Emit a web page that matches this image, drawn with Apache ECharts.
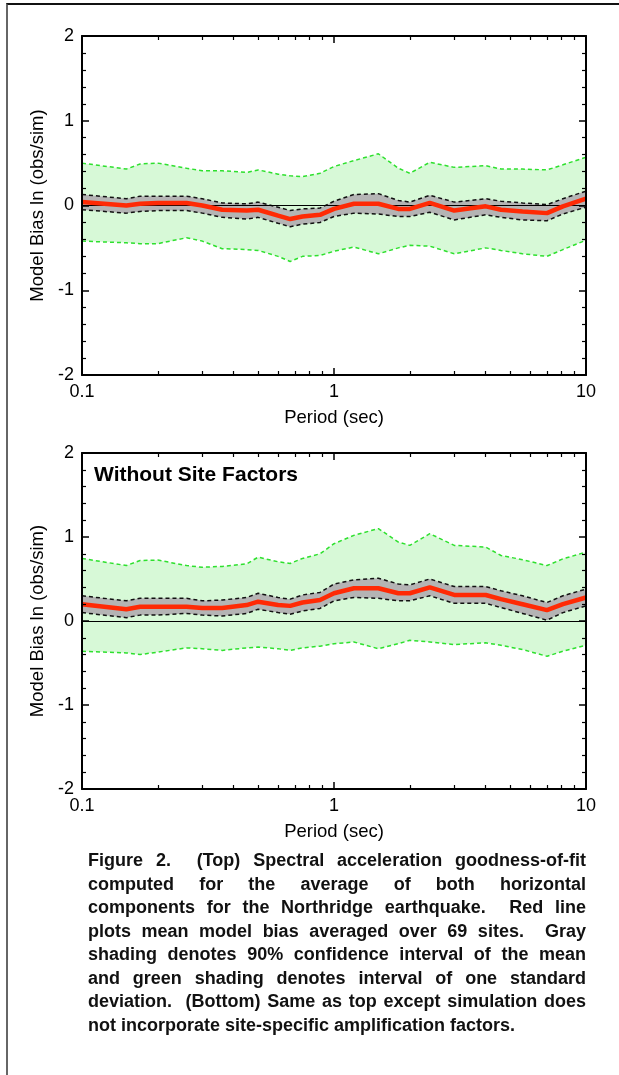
<!DOCTYPE html>
<html>
<head>
<meta charset="utf-8">
<script src="https://cdn.jsdelivr.net/npm/echarts@6/dist/echarts.min.js"></script>
<style>
  body { margin: 0; background: #fff; }
  #wrap { position: relative; width: 619px; height: 1075px; overflow: hidden; }
  #main { position: absolute; left: 0; top: 0; width: 619px; height: 1075px; }
  #frame { position: absolute; left: 6px; top: 3px; width: 640px; height: 1100px;
           border-top: 2px solid #111; border-left: 2px solid #666; }
  #caption { position: absolute; left: 88px; top: 849px; width: 498px;
             font: bold 18px "Liberation Sans", Arial, sans-serif; color: #111; line-height: 23.5px; }
  #caption div { text-align: justify; text-align-last: justify; white-space: nowrap; }
  #caption div.last { text-align: left; text-align-last: left; }
</style>
</head>
<body>
<div id="wrap">
  <div id="frame"></div>
  <div id="main"></div>
  <div id="caption">
    <div>Figure 2.&nbsp; (Top) Spectral acceleration goodness-of-fit</div>
    <div>computed for the average of both horizontal</div>
    <div>components for the Northridge earthquake.&nbsp; Red line</div>
    <div>plots mean model bias averaged over 69 sites.&nbsp; Gray</div>
    <div>shading denotes 90% confidence interval of the mean</div>
    <div>and green shading denotes interval of one standard</div>
    <div>deviation.&nbsp; (Bottom) Same as top except simulation does</div>
    <div class="last">not incorporate site-specific amplification factors.</div>
  </div>
</div>
<script>
// periods (sec)
var periods = [0.1, 0.15, 0.17, 0.2, 0.26, 0.3, 0.36, 0.45, 0.5, 0.6, 0.67, 0.75, 0.88,
               1.0, 1.2, 1.5, 1.8, 2.0, 2.4, 3.0, 4.0, 4.6, 5.6, 7.0, 8.1, 10];

// top panel (with site factors)
var meanTop = [0.04, 0.0, 0.02, 0.03, 0.03, 0.0, -0.05, -0.06, -0.05, -0.12, -0.16, -0.13, -0.11,
               -0.04, 0.02, 0.02, -0.04, -0.04, 0.03, -0.06, -0.01, -0.05, -0.07, -0.09, -0.01, 0.08];
var ciHiTop = [0.13, 0.08, 0.11, 0.11, 0.11, 0.08, 0.03, 0.02, 0.04, -0.02, -0.06, -0.04, -0.03,
               0.05, 0.13, 0.14, 0.06, 0.04, 0.12, 0.04, 0.08, 0.05, 0.03, 0.01, 0.08, 0.17];
var ciLoTop = [-0.05, -0.09, -0.07, -0.06, -0.06, -0.09, -0.14, -0.16, -0.14, -0.21, -0.25, -0.22, -0.20,
               -0.13, -0.09, -0.10, -0.13, -0.13, -0.08, -0.17, -0.11, -0.14, -0.17, -0.18, -0.10, -0.02];
var sdHiTop = [0.50, 0.43, 0.49, 0.50, 0.44, 0.41, 0.41, 0.39, 0.42, 0.37, 0.35, 0.34, 0.38,
               0.46, 0.53, 0.61, 0.44, 0.38, 0.51, 0.45, 0.47, 0.43, 0.43, 0.42, 0.48, 0.57];
var sdLoTop = [-0.42, -0.44, -0.45, -0.45, -0.38, -0.42, -0.51, -0.52, -0.53, -0.60, -0.66, -0.60, -0.59,
               -0.54, -0.49, -0.57, -0.50, -0.47, -0.48, -0.57, -0.50, -0.53, -0.57, -0.60, -0.52, -0.41];

// bottom panel (without site factors)
var meanBot = [0.20, 0.14, 0.17, 0.17, 0.17, 0.155, 0.155, 0.19, 0.23, 0.19, 0.18, 0.22, 0.25,
               0.33, 0.39, 0.39, 0.33, 0.33, 0.40, 0.31, 0.31, 0.26, 0.20, 0.13, 0.20, 0.28];
var ciHiBot = [0.30, 0.24, 0.27, 0.27, 0.27, 0.24, 0.25, 0.28, 0.33, 0.28, 0.26, 0.31, 0.34,
               0.44, 0.49, 0.51, 0.44, 0.43, 0.50, 0.41, 0.41, 0.36, 0.30, 0.22, 0.30, 0.38];
var ciLoBot = [0.10, 0.04, 0.07, 0.07, 0.09, 0.07, 0.06, 0.09, 0.14, 0.10, 0.08, 0.12, 0.15,
               0.24, 0.28, 0.27, 0.24, 0.24, 0.30, 0.21, 0.21, 0.16, 0.09, 0.01, 0.10, 0.18];
var sdHiBot = [0.745, 0.66, 0.72, 0.725, 0.66, 0.64, 0.65, 0.68, 0.76, 0.705, 0.685, 0.745, 0.80,
               0.92, 1.02, 1.10, 0.94, 0.90, 1.04, 0.90, 0.88, 0.78, 0.73, 0.66, 0.74, 0.82];
var sdLoBot = [-0.36, -0.38, -0.40, -0.37, -0.32, -0.33, -0.35, -0.32, -0.31, -0.33, -0.35, -0.32, -0.30,
               -0.27, -0.25, -0.33, -0.27, -0.23, -0.25, -0.28, -0.26, -0.29, -0.34, -0.42, -0.36, -0.29];

// minor tick positions on the period axis
var minorPeriods = [0.2, 0.3, 0.4, 0.5, 0.6, 0.7, 0.8, 0.9, 2, 3, 4, 5, 6, 7, 8, 9];

var FONT = '"Liberation Sans", Arial, sans-serif';
var GREEN_FILL = '#d7f9d7', GREEN_LINE = '#2ee02e', GRAY_FILL = '#b4b4b4', RED = '#ff2a05';

var grids = [
    {left: 82, top: 36, width: 504, height: 339},
    {left: 82, top: 453, width: 504, height: 336}
];

function pts(arr) {
    return periods.map(function (p, i) { return [p, arr[i]]; });
}

var xAxes = [], yAxes = [], series = [];

function addPanel(k, mean, ciHi, ciLo, sdHi, sdLo) {
    var xi = xAxes.length, yi = yAxes.length;
    var axLine = {show: true, onZero: false, lineStyle: {color: '#000', width: 2}};
    var noLine = {show: false, onZero: false};
    var minorTick = {inside: true, length: 4, customValues: minorPeriods.map(Math.log10),
                     lineStyle: {color: '#000', width: 1.2}};
    // bottom log axis with labels
    xAxes.push({
        type: 'log', logBase: 10, min: 0.1, max: 10, gridIndex: k, position: 'bottom', z: 10,
        axisLine: axLine,
        axisTick: {inside: true, length: 7, lineStyle: {color: '#000', width: 1.5}},
        axisLabel: {color: '#000', fontSize: 18, fontFamily: FONT, margin: 8},
        splitLine: {show: false},
        name: 'Period (sec)', nameLocation: 'middle', nameGap: 33,
        nameTextStyle: {color: '#000', fontSize: 18.5, fontFamily: FONT}
    });
    // bottom minor ticks (log10 of period)
    xAxes.push({
        type: 'value', min: -1, max: 1, gridIndex: k, position: 'bottom', z: 10,
        axisLine: noLine, axisTick: minorTick,
        axisLabel: {show: false}, splitLine: {show: false}
    });
    // top mirror axis
    xAxes.push({
        type: 'log', logBase: 10, min: 0.1, max: 10, gridIndex: k, position: 'top', z: 10,
        axisLine: axLine,
        axisTick: {inside: true, length: 7, lineStyle: {color: '#000', width: 1.5}},
        axisLabel: {show: false}, splitLine: {show: false}
    });
    xAxes.push({
        type: 'value', min: -1, max: 1, gridIndex: k, position: 'top', z: 10,
        axisLine: noLine, axisTick: minorTick,
        axisLabel: {show: false}, splitLine: {show: false}
    });
    var yBase = {
        type: 'value', min: -2, max: 2, interval: 1, gridIndex: k, z: 10,
        axisLine: axLine,
        axisTick: {inside: true, length: 7, lineStyle: {color: '#000', width: 1.5}},
        minorTick: {show: true, splitNumber: 5, length: 4, lineStyle: {color: '#000', width: 1.2}},
        splitLine: {show: false}, minorSplitLine: {show: false}
    };
    yAxes.push(Object.assign({}, yBase, {
        position: 'left',
        axisLabel: {color: '#000', fontSize: 18, fontFamily: FONT, margin: 8},
        name: 'Model Bias ln (obs/sim)', nameLocation: 'middle', nameGap: 31, nameRotate: 90,
        nameTextStyle: {color: '#000', fontSize: 18.5, fontFamily: FONT}
    }));
    yAxes.push(Object.assign({}, yBase, {position: 'right', axisLabel: {show: false}}));

    var common = {type: 'line', xAxisIndex: xi, yAxisIndex: yi, symbol: 'none', silent: true};
    // shaded bands: layered fills down to the bottom of the axis
    function fill(arr, color) {
        series.push(Object.assign({}, common, {
            data: pts(arr), lineStyle: {opacity: 0},
            areaStyle: {color: color, opacity: 1, origin: 'start'}
        }));
    }
    function dashed(arr, color) {
        series.push(Object.assign({}, common, {
            data: pts(arr), lineStyle: {color: color, width: 1.5, type: [4, 3]}
        }));
    }
    fill(sdHi, GREEN_FILL);
    fill(ciHi, GRAY_FILL);
    fill(ciLo, GREEN_FILL);
    fill(sdLo, '#ffffff');
    dashed(sdHi, GREEN_LINE);
    dashed(sdLo, GREEN_LINE);
    dashed(ciHi, '#111');
    series.push(Object.assign({}, common, {
        data: pts(ciLo), lineStyle: {color: '#111', width: 1.5, type: [4, 3]},
        markLine: {silent: true, symbol: 'none', label: {show: false},
                   lineStyle: {color: '#000', width: 1, type: 'solid'}, data: [{yAxis: 0}]}
    }));
    series.push(Object.assign({}, common, {
        data: pts(mean), z: 5, lineStyle: {color: RED, width: 4.5}
    }));
}

addPanel(0, meanTop, ciHiTop, ciLoTop, sdHiTop, sdLoTop);
addPanel(1, meanBot, ciHiBot, ciLoBot, sdHiBot, sdLoBot);

var chart = echarts.init(document.getElementById('main'));
chart.setOption({
    animation: false,
    backgroundColor: 'transparent',
    title: {
        text: 'Without Site Factors', left: 94, top: 465, padding: 0,
        textStyle: {color: '#000', fontSize: 21, fontWeight: 'bold', fontFamily: FONT}
    },
    grid: grids,
    xAxis: xAxes,
    yAxis: yAxes,
    series: series
});
</script>
</body>
</html>
